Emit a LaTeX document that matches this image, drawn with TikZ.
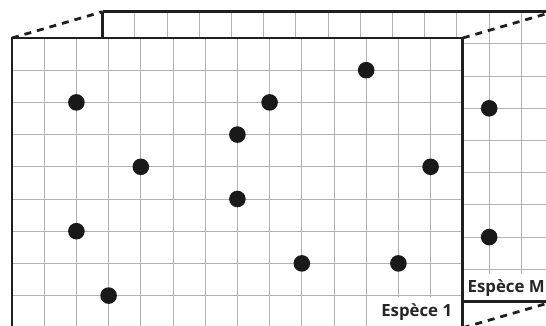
\documentclass[tikz,border=0pt]{standalone}
\usepackage{fontspec}
\setmainfont{Open Sans}
\begin{document}
\begin{tikzpicture}[x=1pt,y=-1pt,
  gridline/.style={draw=black!30, line width=1pt},
  edge/.style={draw=black!88, line width=2.8pt},
  persp/.style={draw=black!88, line width=2.8pt, dash pattern=on 7pt off 6pt},
  dot/.style={circle, fill=black!90, minimum size=16.6pt, inner sep=0pt},
  lab/.style={fill=white, inner sep=0pt, font=\bfseries\fontsize{16.8}{18}\selectfont, text=black!85}]
\useasboundingbox (0,0) rectangle (546,326);
\clip (0,0) rectangle (546,326);
\def\c{32.2}
% back panel
\coordinate (BTL) at (102.7,11.7);
\coordinate (BTR) at (553.5,11.7);
\coordinate (BBR) at (553.5,301.5);
\begin{scope}[shift={(102.7,11.7)}]
  \foreach \i in {1,...,14} \draw[gridline] (\i*\c,0) -- (\i*\c,9*\c);
  \foreach \j in {1,...,8} \draw[gridline] (0,\j*\c) -- (14*\c,\j*\c);
\end{scope}
\node[dot] (m1) at (489.2,108.3) {};
\node[dot] (m2) at (489.2,237.1) {};
\node[lab, minimum width=84pt, minimum height=27pt, anchor=south west] (lm) at (464,301.5) {Espèce M};
\draw[edge] (BTL) -- (BTR);
\draw[edge] (BTL) -- (102.7,40);
\draw[edge] (460,301.5) -- (BBR);
% front panel
\coordinate (FTL) at (12,38);
\coordinate (FTR) at (462.8,38);
\coordinate (FBR) at (462.8,327.8);
\fill[white] (12,38) rectangle (462.8,330);
\begin{scope}[shift={(12,38)}]
  \foreach \i in {1,...,13} \draw[gridline] (\i*\c,0) -- (\i*\c,9*\c);
  \foreach \j in {1,...,8} \draw[gridline] (0,\j*\c) -- (14*\c,\j*\c);
\end{scope}
\node[lab, minimum width=89pt, minimum height=30pt, anchor=south east] (l1) at (461.4,327) {Espèce 1};
\draw[edge] (12,330) -- (FTL) -- (FTR) -- (462.8,330);
% dots
\node[dot] (d1) at (76.4,102.4) {};
\node[dot] (d2) at (140.8,166.8) {};
\node[dot] (d3) at (237.4,134.6) {};
\node[dot] (d4) at (237.4,199) {};
\node[dot] (d5) at (269.6,102.4) {};
\node[dot] (d6) at (366.2,70.2) {};
\node[dot] (d7) at (430.6,166.8) {};
\node[dot] (d8) at (76.4,231.2) {};
\node[dot] (d9) at (108.6,295.6) {};
\node[dot] (d10) at (301.8,263.4) {};
\node[dot] (d11) at (398.4,263.4) {};
% perspective lines
\draw[persp] (FTL) -- (BTL);
\draw[persp] (FTR) -- (BTR);
\draw[persp] (FBR) -- (BBR);
\end{tikzpicture}
\end{document}
